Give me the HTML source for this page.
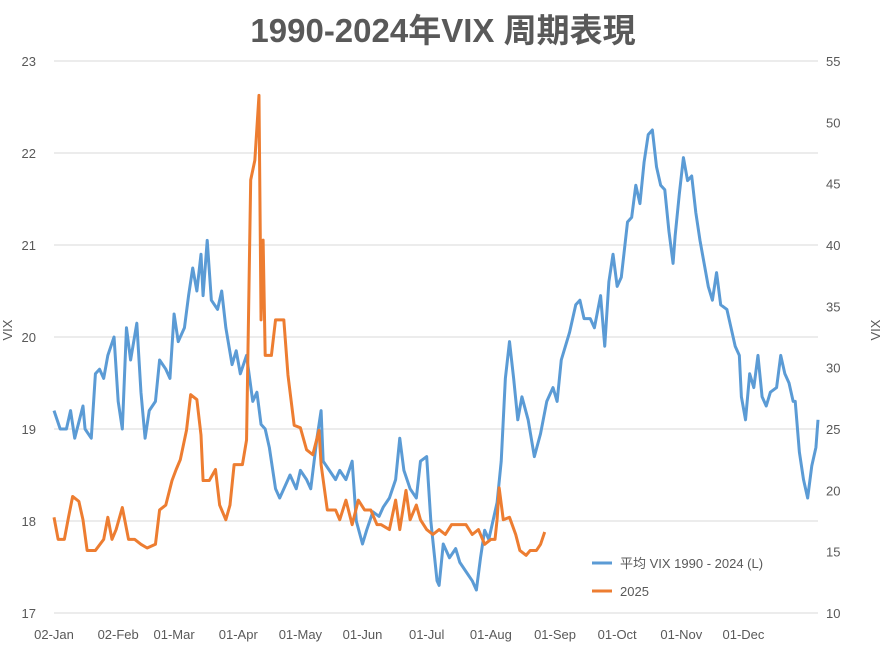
<!DOCTYPE html>
<html><head><meta charset="utf-8"><style>
body{margin:0;background:#fff;}
svg{display:block;font-family:"Liberation Sans","Noto Sans CJK SC",sans-serif;}
</style></head><body>
<svg id="chart" width="887" height="652">
<text x="443" y="42" text-anchor="middle" font-size="33" font-weight="bold" fill="#595959">1990-2024年VIX 周期表現</text>
<g id="grid"></g><g id="laxis"></g><g id="raxis"></g><g id="xaxis"></g>
<text transform="translate(12,330) rotate(-90)" text-anchor="middle" font-size="13" fill="#595959">VIX</text>
<text transform="translate(880,330) rotate(-90)" text-anchor="middle" font-size="13" fill="#595959">VIX</text>
<g id="series"></g>
<g>
<line x1="592" y1="563" x2="612" y2="563" stroke="#5b9bd5" stroke-width="3"/>
<text x="620" y="568" font-size="13" fill="#595959">平均 VIX 1990 - 2024 (L)</text>
<line x1="592" y1="591" x2="612" y2="591" stroke="#ed7d31" stroke-width="3"/>
<text x="620" y="596" font-size="13" fill="#595959">2025</text>
</g>
</svg>
<script>
const leftTicks=[17,18,19,20,21,22,23];
const rightTicks=[10,15,20,25,30,35,40,45,50,55];
const monthLabels=["02-Jan","02-Feb","01-Mar","01-Apr","01-May","01-Jun","01-Jul","01-Aug","01-Sep","01-Oct","01-Nov","01-Dec"];
const monthDays=[0,31,58,89,119,149,180,211,242,272,303,333];
const avgDays=[0,3,6,8,10,14,15,18,20,22,24,26,29,31,33,35,37,40,42,44,46,49,51,54,56,58,60,63,65,67,69,71,72,74,76,79,81,83,86,88,90,93,96,98,100,102,104,107,109,112,114,117,119,122,124,127,129,130,133,136,138,141,144,146,149,151,154,157,159,162,165,167,169,172,175,177,180,182,185,186,188,191,194,196,199,202,204,206,208,210,212,214,216,218,220,222,224,226,229,232,235,238,241,243,245,247,249,252,254,256,259,261,264,266,268,270,272,274,277,279,281,283,285,287,289,291,293,295,297,299,300,302,304,306,308,310,312,314,316,318,320,322,325,327,329,331,332,334,336,338,340,342,344,346,349,351,353,355,357,358,360,362,364,366,368,369];
const avgVix=[19.2,19.0,19.0,19.2,18.9,19.25,19.0,18.9,19.6,19.65,19.55,19.8,20.0,19.3,19.0,20.1,19.75,20.15,19.4,18.9,19.2,19.3,19.75,19.65,19.55,20.25,19.95,20.1,20.45,20.75,20.5,20.9,20.45,21.05,20.4,20.3,20.5,20.1,19.7,19.85,19.6,19.8,19.3,19.4,19.05,19.0,18.8,18.35,18.25,18.4,18.5,18.35,18.55,18.45,18.35,18.9,19.2,18.65,18.55,18.45,18.55,18.45,18.65,18.0,17.75,17.9,18.1,18.05,18.15,18.25,18.45,18.9,18.55,18.35,18.25,18.65,18.7,18.0,17.35,17.3,17.75,17.6,17.7,17.55,17.45,17.35,17.25,17.6,17.9,17.8,18.0,18.2,18.65,19.55,19.95,19.55,19.1,19.35,19.1,18.7,18.95,19.3,19.45,19.3,19.75,19.9,20.05,20.35,20.4,20.2,20.2,20.1,20.45,19.9,20.6,20.9,20.55,20.65,21.25,21.3,21.65,21.45,21.9,22.2,22.25,21.85,21.65,21.6,21.15,20.8,21.1,21.55,21.95,21.7,21.75,21.35,21.05,20.8,20.55,20.4,20.7,20.35,20.3,20.1,19.9,19.8,19.35,19.1,19.6,19.45,19.8,19.35,19.25,19.4,19.45,19.8,19.6,19.5,19.3,19.3,18.75,18.45,18.25,18.6,18.8,19.1];
const y25Days=[0,2,5,7,9,12,14,16,20,24,26,28,30,33,36,39,42,45,49,51,54,57,59,61,64,66,69,71,72,75,78,80,83,85,87,91,93,95,97,99,100,101,102,105,107,111,113,116,119,122,125,128,129,132,136,138,141,144,147,150,153,156,158,162,165,167,170,172,175,177,180,183,186,189,192,196,199,202,205,208,211,213,214,215,217,220,223,225,228,230,233,235,237];
const y25Vix=[17.8,16,16,17.8,19.5,19.1,17.6,15.1,15.1,16,17.8,16,16.8,18.6,16,16,15.6,15.3,15.6,18.4,18.8,20.8,21.7,22.5,24.9,27.8,27.4,24.5,20.8,20.8,21.7,18.8,17.6,18.8,22.1,22.1,24.1,45.3,46.9,52.2,33.9,40.4,31.0,31.0,33.9,33.9,29.4,25.3,25.1,23.3,22.9,24.9,22.1,18.4,18.4,17.6,19.2,17.2,19.2,18.4,18.4,17.2,17.2,16.8,19.2,16.8,20.0,17.6,18.8,17.6,16.8,16.4,16.8,16.4,17.2,17.2,17.2,16.4,16.8,15.6,16,16,17.6,20.2,17.6,17.8,16.4,15.1,14.7,15.1,15.1,15.6,16.6];

const X0=54,X1=818,T=61,B=613,NS="http://www.w3.org/2000/svg";
const xs=d=>X0+d*(X1-X0)/369;
const yl=v=>B-(v-17)*(B-T)/6;
const yr=v=>B-(v-10)*(B-T)/45;
function mk(tag,attrs,parent){const e=document.createElementNS(NS,tag);for(const k in attrs)e.setAttribute(k,attrs[k]);parent.appendChild(e);return e;}
const grid=document.getElementById('grid'),la=document.getElementById('laxis'),ra=document.getElementById('raxis'),xa=document.getElementById('xaxis'),ser=document.getElementById('series');
leftTicks.forEach(v=>{
 const g=mk('line',{x1:X0,x2:X1,y1:yl(v),y2:yl(v),stroke:'#d9d9d9','stroke-width':1},grid);
 
 
 const t=mk('text',{x:36,y:yl(v)+5,'text-anchor':'end','font-size':13,fill:'#595959'},la);t.textContent=v;
 
 
});
rightTicks.forEach(v=>{
 const t=mk('text',{x:826,y:yr(v)+5,'font-size':13,fill:'#595959'},ra);t.textContent=v;
 
 
});
monthLabels.forEach((m,i)=>{
 const t=mk('text',{x:xs(monthDays[i]),y:639,'text-anchor':'middle','font-size':13,fill:'#595959'},xa);t.textContent=m;
 
 
});
const p1=mk('polyline',{points:avgDays.map((d,i)=>xs(d)+','+yl(avgVix[i])).join(' '),fill:'none',stroke:'#5b9bd5','stroke-width':3,'stroke-linejoin':'round'},ser);


const p2=mk('polyline',{points:y25Days.map((d,i)=>xs(d)+','+yr(y25Vix[i])).join(' '),fill:'none',stroke:'#ed7d31','stroke-width':3,'stroke-linejoin':'round'},ser);


</script>
</body></html>
